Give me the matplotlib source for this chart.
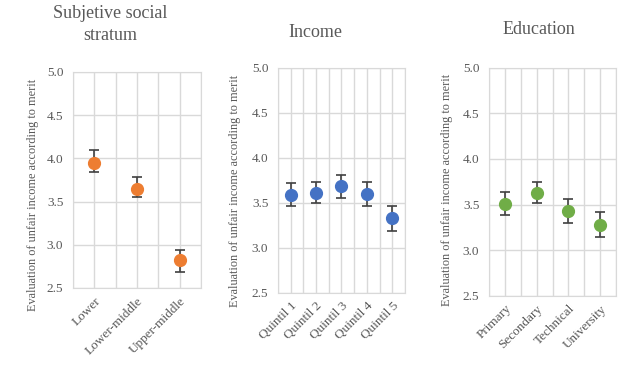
import matplotlib
matplotlib.use("Agg")
import matplotlib.pyplot as plt
import numpy as np

plt.rcParams["font.family"] = ["Liberation Serif", "DejaVu Serif"]

# data
stratum_labels = ["Lower", "Lower-middle", "Upper-middle"]
stratum_mean = [3.95, 3.65, 2.82]
stratum_low = [3.84, 3.55, 2.69]
stratum_high = [4.09, 3.78, 2.94]

income_labels = ["Quintil 1", "Quintil 2", "Quintil 3", "Quintil 4", "Quintil 5"]
income_mean = [3.59, 3.61, 3.69, 3.60, 3.33]
income_low = [3.46, 3.50, 3.55, 3.46, 3.19]
income_high = [3.72, 3.73, 3.81, 3.73, 3.46]

edu_labels = ["Primary", "Secondary", "Technical", "University"]
edu_mean = [3.51, 3.63, 3.43, 3.28]
edu_low = [3.39, 3.52, 3.30, 3.15]
edu_high = [3.64, 3.75, 3.56, 3.42]

yticks = [2.5, 3.0, 3.5, 4.0, 4.5, 5.0]
ylabel = "Evaluation of unfair income according to merit"

# title, labels, values, colour, axes box, y-label x/y, title x/y
panels = [
    ("Subjetive social\nstratum", stratum_labels, stratum_mean, stratum_low, stratum_high,
     "#ED7D31", [0.117, 0.230, 0.205, 0.578], 0.053, 0.479, 0.176, 0.935),
    ("Income", income_labels, income_mean, income_low, income_high,
     "#4472C4", [0.4455, 0.217, 0.2035, 0.602], 0.377, 0.489, 0.505, 0.914),
    ("Education", edu_labels, edu_mean, edu_low, edu_high,
     "#70AD47", [0.7837, 0.209, 0.2035, 0.610], 0.716, 0.492, 0.864, 0.920),
]

fig = plt.figure(figsize=(6.24, 3.74), dpi=100)

for title, labels, mean, low, high, color, pos, ylab_x, ylab_y, title_x, title_y in panels:
    ax = fig.add_axes(pos)
    n = len(labels)
    x = np.arange(n)
    mean = np.array(mean)
    err = [mean - np.array(low), np.array(high) - mean]
    ax.errorbar(x, mean, yerr=err, fmt="none", ecolor="#404040",
                elinewidth=1.2, capsize=3.5, capthick=1.2, zorder=3)
    ax.plot(x, mean, "o", color=color, markersize=8.5, zorder=4)

    ax.set_xlim(-0.5, n - 0.5)
    ax.set_ylim(2.5, 5.0)
    ax.set_yticks(yticks)
    ax.set_yticklabels([f"{t:.1f}" for t in yticks])
    ax.set_xticks(x)
    ax.set_xticklabels(labels, rotation=45, ha="right", rotation_mode="anchor")
    ax.set_xticks(np.arange(-0.5, n, 1.0), minor=True)

    ax.grid(True, which="major", color="#d9d9d9", linewidth=1.0)
    ax.grid(True, which="minor", axis="x", color="#d9d9d9", linewidth=1.0)
    for s in ax.spines.values():
        s.set_color("#d9d9d9")
    ax.tick_params(which="both", length=0, labelsize=9.5, colors="#595959")
    ax.tick_params(axis="y", pad=7)
    ax.tick_params(axis="x", pad=5)
    ax.set_axisbelow(True)

    fig.text(ylab_x, ylab_y, ylabel, rotation=90,
             ha="center", va="center", fontsize=8.8, color="#595959")
    fig.text(title_x, title_y, title,
             ha="center", va="center", fontsize=13, color="#595959",
             linespacing=1.35)

fig.savefig("out.png", dpi=100)
